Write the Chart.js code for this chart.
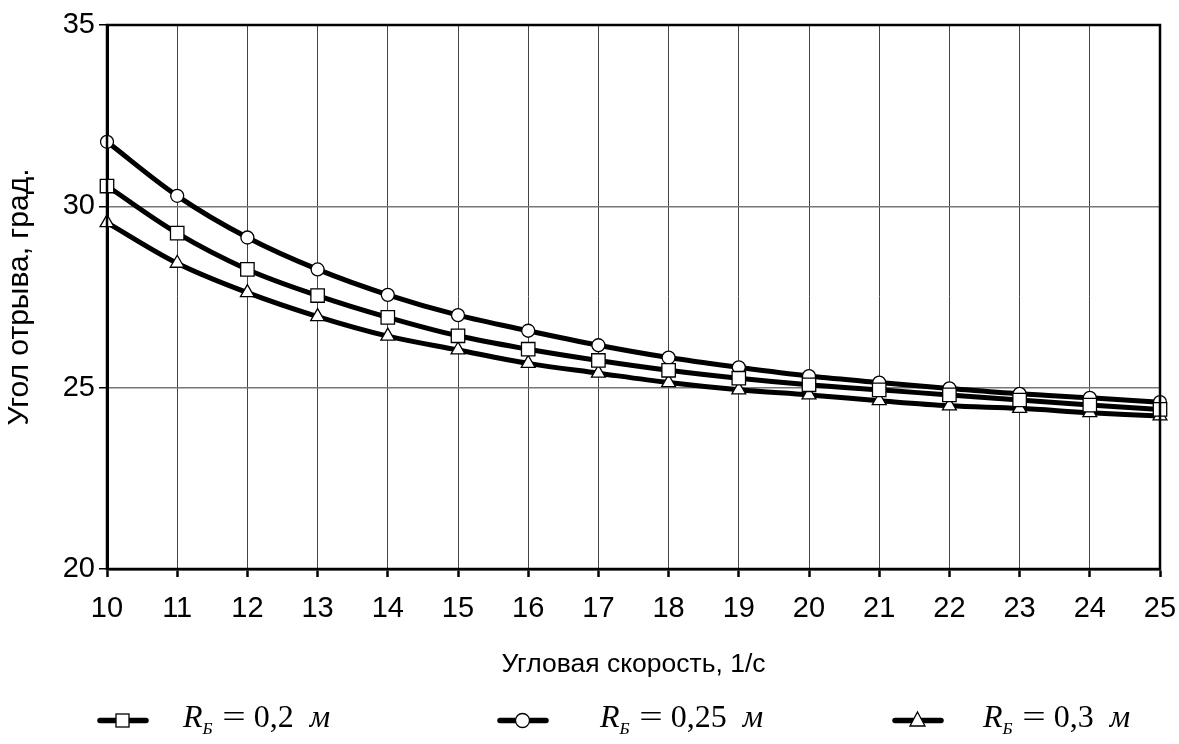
<!DOCTYPE html>
<html>
<head>
<meta charset="utf-8">
<script src="https://cdn.jsdelivr.net/npm/chart.js@4/dist/chart.umd.min.js"></script>
<style>
  html, body { margin: 0; padding: 0; background: #fff; }
  #wrap { position: relative; width: 1179px; height: 744px; }
  #legend { position: absolute; left: 0; top: 698px; width: 1179px; height: 46px; }
  .item { position: absolute; top: 0; height: 46px; }
  .item svg { position: absolute; top: 11px; left: 0; }
  .item .lbl { position: absolute; top: 0; white-space: nowrap;
    font-family: "Liberation Serif", "Times New Roman", serif; font-size: 32px; color: #000; }
  .lbl i sub { font-size: 17px; vertical-align: -7px; }
  .lbl .eq { display: inline-block; margin: 0 3px 0 4px; transform: scaleX(1.3); }
</style>
</head>
<body>
<div id="wrap">
  <canvas id="chart" width="1179" height="744"></canvas>
  <div id="legend"></div>
</div>
<script>
// angular speed, 1/s
var speeds = ['10', '11', '12', '13', '14', '15', '16', '17', '18', '19', '20', '21', '22', '23', '24', '25'];

// separation angle, deg. for each drum radius
var r020 = [30.56, 29.26, 28.26, 27.54, 26.94, 26.43, 26.06, 25.75, 25.48, 25.26, 25.08, 24.94, 24.8, 24.66, 24.52, 24.4];
var r025 = [31.78, 30.29, 29.14, 28.26, 27.56, 27.0, 26.57, 26.17, 25.83, 25.56, 25.32, 25.14, 24.98, 24.83, 24.72, 24.6];
var r030 = [29.55, 28.43, 27.62, 26.96, 26.42, 26.04, 25.67, 25.4, 25.14, 24.94, 24.8, 24.64, 24.5, 24.43, 24.31, 24.22];

var legendNames = ['0,2', '0,25', '0,3'];

function series(data, marker, size) {
    return {
        data: data,
        borderColor: '#000',
        borderWidth: 5,
        tension: 0.35,
        pointStyle: marker,
        pointRadius: size,
        pointBackgroundColor: '#fff',
        pointBorderColor: '#000',
        pointBorderWidth: 1.3
    };
}

// frame round the plot area
var frame = {
    id: 'frame',
    afterDraw: function (chart) {
        var a = chart.chartArea, c = chart.ctx;
        c.save();
        c.strokeStyle = '#000';
        c.lineWidth = 2.5;
        c.strokeRect(a.left, a.top, a.right - a.left, a.bottom - a.top);
        c.restore();
    }
};

var ctx = document.getElementById('chart').getContext('2d');
var chart = new Chart(ctx, {
    type: 'line',
    data: {
        labels: speeds,
        datasets: [
            series(r020, 'rect', 9.5),
            series(r025, 'circle', 6.5),
            series(r030, 'triangle', 8)
        ]
    },
    options: {
        responsive: false,
        animation: false,
        layout: { padding: { left: 0, top: 25, right: 19, bottom: 0 } },
        plugins: {
            legend: { display: false },
            tooltip: { enabled: false }
        },
        scales: {
            x: {
                offset: false,
                afterFit: function (s) {
                    s.height = 175;
                    s.paddingLeft = 0;
                    s.paddingRight = 0;
                },
                grid: { color: '#444', lineWidth: 1, tickLength: 8, tickColor: '#000', tickWidth: 2.5 },
                border: { color: '#000', width: 2.5 },
                ticks: { color: '#000', padding: 15, maxRotation: 0,
                    font: { family: 'Liberation Sans, Arial', size: 29 } },
                title: { display: true, text: 'Угловая скорость, 1/с', color: '#000',
                    font: { family: 'Liberation Sans, Arial', size: 26.5 }, padding: { bottom: 63 } }
            },
            y: {
                min: 20,
                max: 35,
                afterFit: function (s) { s.width = 107; },
                grid: { color: '#777', lineWidth: 1.5, tickLength: 8, tickColor: '#000', tickWidth: 1.5 },
                border: { color: '#000', width: 3 },
                ticks: { stepSize: 5, color: '#000', padding: 4,
                    font: { family: 'Liberation Sans, Arial', size: 29 } },
                title: { display: true, text: 'Угол отрыва, град.', color: '#000',
                    font: { family: 'Liberation Sans, Arial', size: 30 }, padding: { top: 2 } }
            }
        }
    },
    plugins: [frame]
});

// legend below the chart, with subscripts
var markers = [
    '<rect x="19" y="5" width="13" height="13" fill="#fff" stroke="#000" stroke-width="1.3"/>',
    '<circle cx="25.5" cy="11.5" r="7" fill="#fff" stroke="#000" stroke-width="1.3"/>',
    '<polygon points="25.5,3 33,17 18,17" fill="#fff" stroke="#000" stroke-width="1.3"/>'
];
var legendX = [[97, 183], [497, 600], [892, 983]];
var legendBox = document.getElementById('legend');
for (var i = 0; i < legendNames.length; i++) {
    var div = document.createElement('div');
    div.className = 'item';
    div.style.left = legendX[i][0] + 'px';
    div.style.width = (legendX[i][1] - legendX[i][0] + 200) + 'px';
    div.innerHTML =
        '<svg width="52" height="23"><line x1="3" y1="11.5" x2="49" y2="11.5" stroke="#000" stroke-width="5.5" stroke-linecap="round"/>' +
        markers[i] + '</svg>' +
        '<span class="lbl" style="left:' + (legendX[i][1] - legendX[i][0]) + 'px"><i>R<sub>Б</sub></i> <span class="eq">=</span> ' +
        legendNames[i] + '&nbsp; <i>м</i></span>';
    legendBox.appendChild(div);
}
</script>
</body>
</html>
